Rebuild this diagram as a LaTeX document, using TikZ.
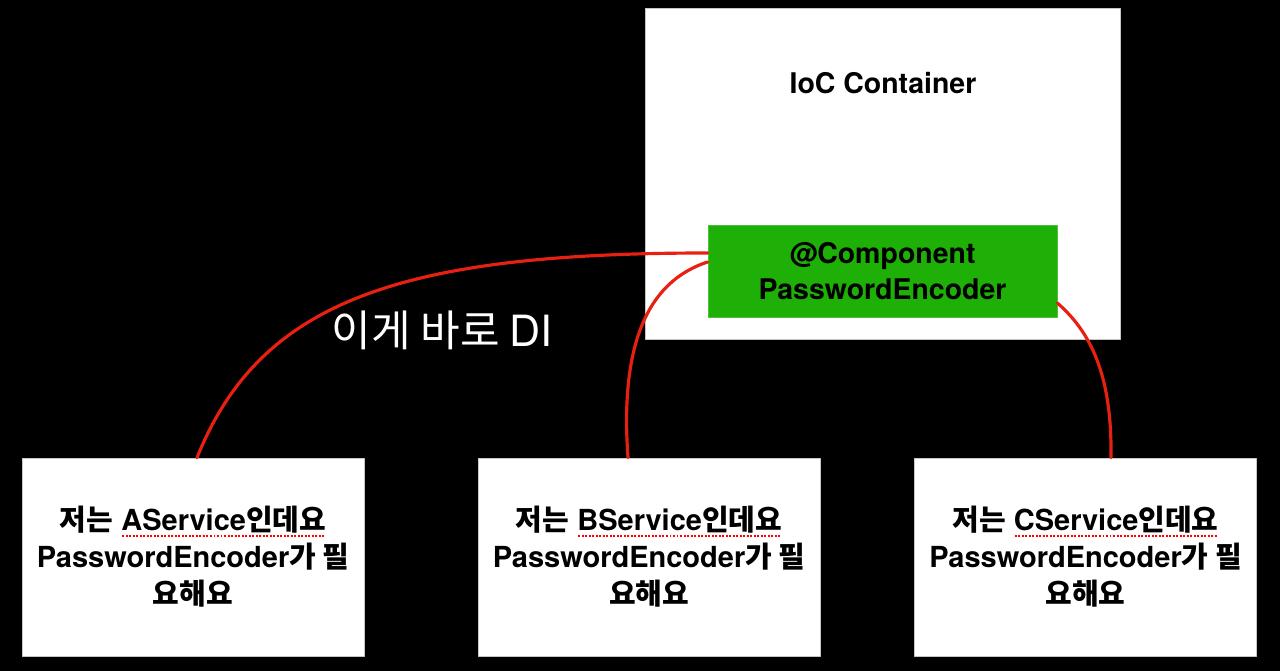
\documentclass[tikz,border=0pt]{standalone}
\usepackage{fontspec}
\setmainfont{TeX Gyre Heros}
\newfontfamily\kr{Noto Sans CJK KR}
\definecolor{pencil}{RGB}{232,32,18}
\definecolor{beangreen}{RGB}{30,176,6}
% red dotted spell-check mark under a word
\newcommand\spellmark[1]{\leavevmode\setbox0\hbox{#1}\rlap{\raisebox{-3.4pt}{\color{red}\leaders\hbox to 2pt{\hss\rule{1.1pt}{1.1pt}\hss}\hskip\wd0}}\box0}
\begin{document}
\begin{tikzpicture}[x=0.02cm, y=-0.02cm, line cap=round, line join=round,
    box/.style={draw=gray!45, line width=0.4pt, fill=white, inner sep=0pt},
    container/.style={box, minimum width=9.5cm, minimum height=6.62cm},
    bean/.style={draw=beangreen!80!white, line width=0.4pt, fill=beangreen,
      minimum width=6.98cm, minimum height=1.84cm, align=center,
      font=\bfseries\fontsize{16.2}{20.5}\selectfont},
    service/.style={box, minimum width=6.84cm, minimum height=3.96cm, align=center,
      font=\bfseries\fontsize{16.5}{21}\selectfont},
    wire/.style={draw=pencil, line width=1.8pt}]
  \path[use as bounding box, fill=black] (0,0) rectangle (1280,671);
  % IoC container with its bean
  \node[container] (ioc) at (882.5,173.5) {};
  \node[font=\bfseries\fontsize{16.2}{20}\selectfont] (ioctitle) at (883,83) {IoC Container};
  \node[bean] (encoder) at (882.5,271) {@Component\\PasswordEncoder};
  % services
  \node[service] (svcA) at (193,557)
    {{\kr 저는} \spellmark{AService{\kr 인데요}}\\PasswordEncoder{\kr 가 필}\\{\kr 요해요}};
  \node[service] (svcB) at (649,557)
    {{\kr 저는} \spellmark{BService{\kr 인데요}}\\PasswordEncoder{\kr 가 필}\\{\kr 요해요}};
  \node[service] (svcC) at (1085.5,557)
    {{\kr 저는} \spellmark{CService{\kr 인데요}}\\PasswordEncoder{\kr 가 필}\\{\kr 요해요}};
  \node[text=white, font=\kr\fontsize{24.5}{29}\selectfont] (dilabel) at (442,330)
    {이게 바로 {\rmfamily DI}};
  % hand-drawn links
  \draw[wire] ([shift={(4,0)}]svcA.north) .. controls +(63,-157) and +(-307,0)
    .. ([shift={(0,-18)}]encoder.west);
  \draw[wire] ([shift={(-21,0)}]svcB.north) .. controls +(-8,-110) and +(-62,20)
    .. ([shift={(0,-9)}]encoder.west);
  \draw[wire] ([shift={(0,32)}]encoder.east) .. controls +(37,32) and +(1,-76)
    .. ([shift={(25.5,0)}]svcC.north);
\end{tikzpicture}
\end{document}
